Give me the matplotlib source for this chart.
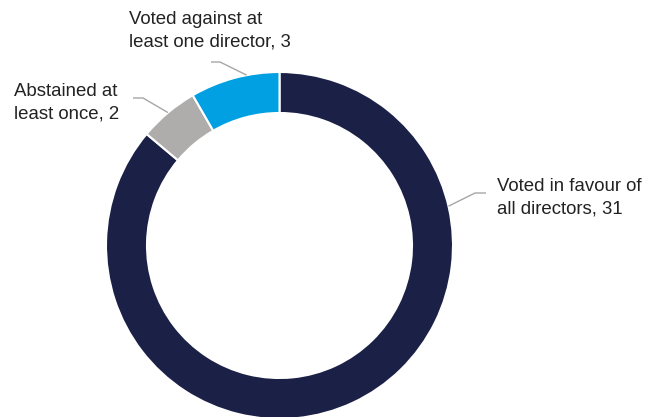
import numpy as np
import matplotlib.pyplot as plt

plt.rcParams['font.family'] = ['Liberation Sans', 'DejaVu Sans']

# data
categories = ['Voted in favour of\nall directors', 'Abstained at\nleast once',
              'Voted against at\nleast one director']
values = [31, 2, 3]
colors = ['#1b2046', '#afadac', '#00a0e2']

W, H = 659, 417
fig = plt.figure(figsize=(W / 100, H / 100), dpi=100)
ax = fig.add_axes([0, 0, 1, 1])

cx, cy, r = 279.5, H - 245.5, 173.5
ax.pie(values, colors=colors, startangle=90, counterclock=False,
       center=(cx, cy), radius=r,
       wedgeprops=dict(width=41, edgecolor='white', linewidth=1.5))

ax.set_xlim(0, W)
ax.set_ylim(0, H)
ax.set_aspect('equal')
ax.axis('off')

# label layout: anchor angle on ring, elbow, line end, text pos (last baseline, px from top-left)
layout = [
    (13.1, (475, 193), (486, 193), (497, 213)),
    (130.0, (143, 98), (133, 98), (14, 118)),
    (100.9, (220, 62), (211, 62), (129, 46)),
]

for cat, val, (ang, elbow, end, txt) in zip(categories, values, layout):
    a = np.deg2rad(ang)
    ax0 = cx + r * np.cos(a)
    ay0 = cy + r * np.sin(a)
    ax.plot([ax0, elbow[0], end[0]], [ay0, H - elbow[1], H - end[1]],
            color='#a6a6a6', lw=1, solid_capstyle='butt')
    ax.text(txt[0], H - txt[1], f'{cat}, {val}', fontsize=13.4, color='#222222',
            ha='left', va='baseline', linespacing=1.38)

fig.savefig('out.png', dpi=100)
